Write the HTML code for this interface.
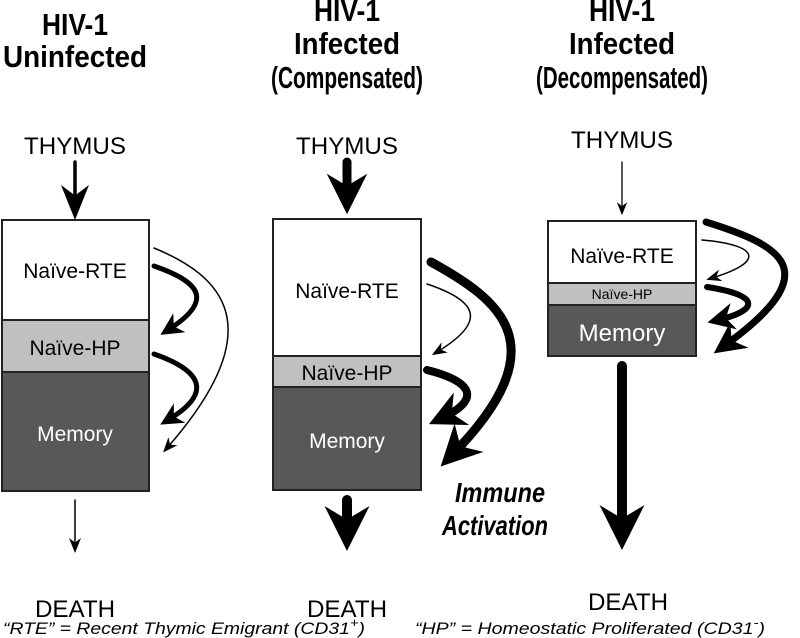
<!DOCTYPE html>
<html><head><meta charset="utf-8"><style>
html,body{margin:0;padding:0;background:#fff;}
svg{display:block;font-family:"Liberation Sans",Arial,sans-serif;}
</style></head><body>
<svg width="800" height="638" viewBox="0 0 800 638" xmlns="http://www.w3.org/2000/svg">
<defs>
<marker id="h" viewBox="0 0 10 10" refX="6" refY="5" markerWidth="4.5" markerHeight="4.5" orient="auto" markerUnits="strokeWidth">
<path d="M0,0 L10,5 L0,10 L3,5 z" fill="#000"/></marker>
<marker id="ht" viewBox="0 0 10 10" refX="6" refY="5" markerWidth="10" markerHeight="10" orient="auto" markerUnits="strokeWidth">
<path d="M0,1 L10,5 L0,9 L3,5 z" fill="#000"/></marker>
</defs>
<g font-weight="bold" font-size="31" text-anchor="middle">
<text x="75" y="35" textLength="66" lengthAdjust="spacingAndGlyphs">HIV-1</text>
<text x="75" y="67" textLength="144" lengthAdjust="spacingAndGlyphs">Uninfected</text>
<text x="347" y="21" textLength="66" lengthAdjust="spacingAndGlyphs">HIV-1</text>
<text x="347" y="54" textLength="106" lengthAdjust="spacingAndGlyphs">Infected</text>
<text x="347" y="88" textLength="152" lengthAdjust="spacingAndGlyphs">(Compensated)</text>
<text x="622" y="21" textLength="66" lengthAdjust="spacingAndGlyphs">HIV-1</text>
<text x="622" y="54" textLength="106" lengthAdjust="spacingAndGlyphs">Infected</text>
<text x="622" y="88" textLength="172" lengthAdjust="spacingAndGlyphs">(Decompensated)</text>
</g>
<g font-size="24" text-anchor="middle">
<text x="75" y="154" textLength="102" lengthAdjust="spacingAndGlyphs">THYMUS</text>
<text x="347" y="154" textLength="102" lengthAdjust="spacingAndGlyphs">THYMUS</text>
<text x="622" y="148" textLength="102" lengthAdjust="spacingAndGlyphs">THYMUS</text>
<text x="75" y="617" textLength="80" lengthAdjust="spacingAndGlyphs">DEATH</text>
<text x="347" y="617" textLength="80" lengthAdjust="spacingAndGlyphs">DEATH</text>
<text x="628" y="610" textLength="80" lengthAdjust="spacingAndGlyphs">DEATH</text>
</g>
<g stroke="#222" stroke-width="2">
<rect x="2" y="220" width="147" height="100" fill="#fff"/>
<rect x="2" y="320" width="147" height="52" fill="#c0c0c0"/>
<rect x="2" y="372" width="147" height="119" fill="#585858"/>
<rect x="273" y="219" width="148" height="137" fill="#fff"/>
<rect x="273" y="356" width="148" height="31" fill="#c0c0c0"/>
<rect x="273" y="387" width="148" height="103" fill="#585858"/>
<rect x="548" y="221" width="148" height="62" fill="#fff"/>
<rect x="548" y="283" width="148" height="22" fill="#c0c0c0"/>
<rect x="548" y="305" width="148" height="51" fill="#585858"/>
</g>
<g font-size="21" text-anchor="middle">
<text x="75" y="278">Naïve-RTE</text>
<text x="75" y="355">Naïve-HP</text>
<text x="75" y="441" fill="#fff">Memory</text>
<text x="347" y="298">Naïve-RTE</text>
<text x="347" y="380">Naïve-HP</text>
<text x="347" y="448" fill="#fff">Memory</text>
<text x="622" y="263">Naïve-RTE</text>
<text x="622" y="299" font-size="14">Naïve-HP</text>
<text x="622" y="341" fill="#fff" font-size="24">Memory</text>
</g>
<g fill="none" stroke="#000" stroke-linecap="round">
<path d="M75,162 L75,206" stroke-width="3.5" marker-end="url(#ht)"/>
<path d="M347,162 L347,198" stroke-width="9" marker-end="url(#h)"/>
<path d="M622,162 L622,210" stroke-width="1.3" marker-end="url(#ht)"/>
<path d="M75,500 L75,547" stroke-width="1.5" marker-end="url(#ht)"/>
<path d="M347,500 L347,533" stroke-width="10" marker-end="url(#h)"/>
<path d="M622,366 L622,532" stroke-width="10" marker-end="url(#h)"/>
<path d="M154,266 C200,282 215,300 168,330" stroke-width="5" marker-end="url(#h)"/>
<path d="M154,354 C200,370 215,392 168,420" stroke-width="5" marker-end="url(#h)"/>
<path d="M154,248 C220,275 275,325 167,448" stroke-width="1.5" marker-end="url(#ht)"/>
<path d="M431,262 C500,300 560,345 452,455" stroke-width="9" marker-end="url(#h)"/>
<path d="M427,284 C475,300 490,320 437,352" stroke-width="1.5" marker-end="url(#ht)"/>
<path d="M427,370 C475,382 480,400 442,418" stroke-width="8" marker-end="url(#h)"/>
<path d="M706,222 C780,245 830,270 724,346" stroke-width="7" marker-end="url(#h)"/>
<path d="M702,240 C760,245 765,262 712,278" stroke-width="1.5" marker-end="url(#ht)"/>
<path d="M707,287 C760,295 760,310 718,320" stroke-width="6" marker-end="url(#h)"/>
</g>
<g font-weight="bold" font-style="italic" font-size="28" text-anchor="middle">
<text x="500" y="502" textLength="90" lengthAdjust="spacingAndGlyphs">Immune</text>
<text x="495" y="535" textLength="106" lengthAdjust="spacingAndGlyphs">Activation</text>
</g>
<g font-style="italic" font-size="17">
<text x="3" y="634" textLength="362" lengthAdjust="spacingAndGlyphs">“RTE” = Recent Thymic Emigrant (CD31<tspan dy="-7" font-size="13">+</tspan><tspan dy="7">)</tspan></text>
<text x="415" y="634" textLength="350" lengthAdjust="spacingAndGlyphs">“HP” = Homeostatic Proliferated (CD31<tspan dy="-7" font-size="13">-</tspan><tspan dy="7">)</tspan></text>
</g>
</svg>
</body></html>
